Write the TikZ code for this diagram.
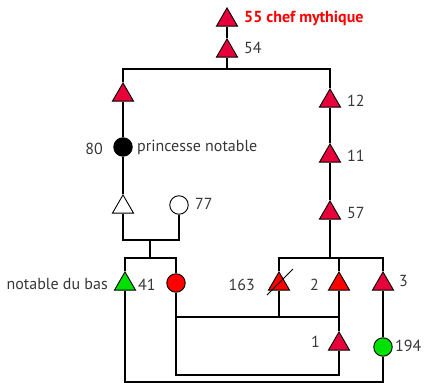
\documentclass[tikz,border=0pt]{standalone}
\usepackage{fontspec}
\setmainfont{PT Sans}
\usetikzlibrary{shapes.geometric}
\definecolor{crim}{RGB}{232,0,58}
\definecolor{pured}{RGB}{255,0,0}
\definecolor{grn}{RGB}{0,225,0}
\definecolor{txt}{RGB}{55,55,55}
\begin{document}
\begin{tikzpicture}[x=1pt,y=-1pt,
  tri/.style={regular polygon, regular polygon sides=3, draw=black, line width=0.9pt, minimum size=24.2pt, inner sep=0pt, fill=crim},
  circ/.style={circle, draw=black, line width=0.9pt, minimum size=18.5pt, inner sep=0pt},
  lbl/.style={inner sep=0pt, text=txt, font=\fontsize{16}{18}\selectfont},
  link/.style={line width=1.1pt, draw=black}]
\useasboundingbox (0,0) rectangle (424,383);
% persons
\node[tri] (t55) at (227,20) {};
\node[tri] (t54) at (227,51) {};
\node[tri] (tL) at (123,95) {};
\node[tri] (t12) at (330,101) {};
\node[tri] (t11) at (330,156) {};
\node[tri] (t57) at (330,213) {};
\node[tri, fill=white] (tW) at (123,207) {};
\node[tri, fill=grn] (t41) at (125,284) {};
\node[tri, fill=pured] (t163) at (279,284) {};
\node[tri, fill=pured] (t2) at (339,284) {};
\node[tri] (t3) at (383,284) {};
\node[tri] (t1) at (339,344) {};
\node[circ, fill=black] (c80) at (123,147) {};
\node[circ, fill=white] (c77) at (179,205) {};
\node[circ, fill=pured] (cR) at (176,283) {};
\node[circ, fill=grn] (c194) at (383,347) {};
% junctions
\coordinate (j54) at (227,69);
\coordinate (m1) at (150,240);
\coordinate (s1) at (150,258);
\coordinate (s2) at (330,258);
\coordinate (m2) at (339,317);
\coordinate (b1) at (339,375);
\coordinate (b2) at (383,382);
% links
\draw[link] (t55.south) -- (t54.north);
\draw[link] (t54.south) -- (j54);
\draw[link] (tL.north) |- (j54) -| (t12.north);
\draw[link] (tL.south) -- (c80.north);
\draw[link] (c80.south) -- (tW.north);
\draw[link] (t12.south) -- (t11.north);
\draw[link] (t11.south) -- (t57.north);
\draw[link] (tW.south) |- (m1) -| (c77.south);
\draw[link] (m1) -- (s1);
\draw[link] (t41.north) |- (s1) -| (cR.north);
\draw[link] (t57.south) -- (s2);
\draw[link] (t163.north) |- (s2) -| (t3.north);
\draw[link] (t2.north) -- (t2.north |- s2);
\draw[link] (cR.south |- m2) -- (m2);
\draw[link] (t163.south) -- (t163.south |- m2);
\draw[link] (t2.south) -- (t1.north);
\draw[link] (cR.south) |- (b1) -- (t1.south);
\draw[link] (t41.south) |- (b2) -- (c194.south);
\draw[link] (t3.south) -- (c194.north);
\draw[line width=1pt] ([shift={(-12,11)}]t163.center) -- ([shift={(14,-15)}]t163.center);
% labels
\node[lbl, anchor=base west, text=pured, font=\fontsize{16}{18}\selectfont\bfseries] (l55) at (244,22) {55 chef mythique};
\node[lbl, anchor=base west] (l54) at (244,53) {54};
\node[lbl, anchor=base west] (l12) at (347,106) {12};
\node[lbl, anchor=base west] (l11) at (347,161) {11};
\node[lbl, anchor=base west] (l57) at (347,218) {57};
\node[lbl, anchor=base east] (l80) at (103,154) {80};
\node[lbl, anchor=base west] (lpn) at (137,151) {princesse notable};
\node[lbl, anchor=base west] (l77) at (195,209) {77};
\node[lbl, anchor=base east] (lndb) at (108,289) {notable du bas};
\node[lbl, anchor=base west] (l41) at (138,290) {41};
\node[lbl, anchor=base east] (l163) at (255,290) {163};
\node[lbl, anchor=base west] (l2) at (310,290) {2};
\node[lbl, anchor=base west] (l3) at (399,286) {3};
\node[lbl, anchor=base west] (l1) at (311,347) {1};
\node[lbl, anchor=base west] (l194) at (395,351) {194};
\end{tikzpicture}
\end{document}
